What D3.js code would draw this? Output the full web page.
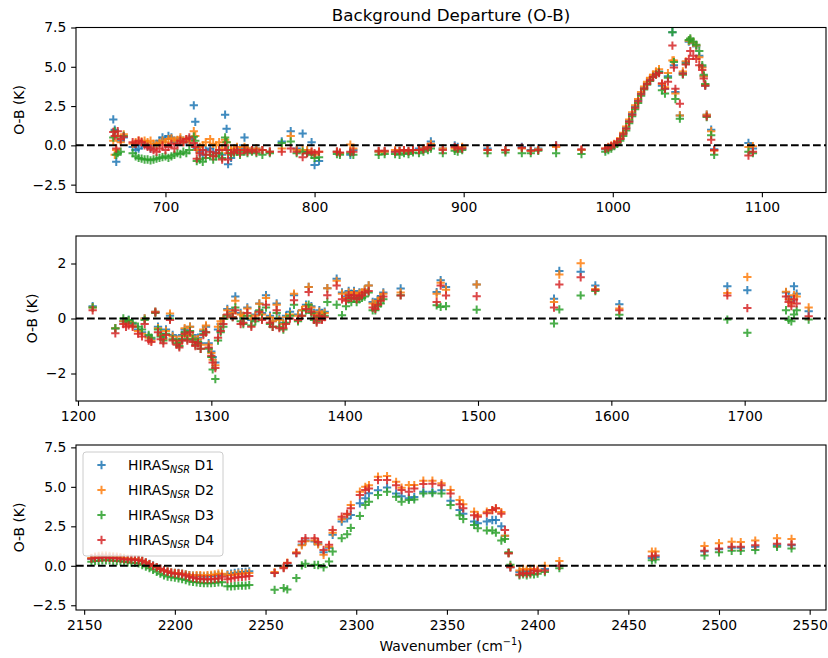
<!DOCTYPE html>
<html>
<head>
<meta charset="utf-8">
<script src="https://cdn.jsdelivr.net/npm/d3@7"></script>
<style>
body { margin: 0; background: #fff; }
svg { font-family: "DejaVu Sans", sans-serif; }
</style>
</head>
<body>
<svg width="828" height="658"></svg>
<script>
const seriesNames = ["D1", "D2", "D3", "D4"];
const colors = ["#1f77b4", "#ff7f0e", "#2ca02c", "#d62728"];

// panel 1: 650-1150 cm-1
const p1Wn = [665,666,667,668,670,672,678,680,682,684,
  686,688,690,692,694,696,698,700,702,704,
  706,708,710,712,714,716,719,720,721,723,
  725,727,730,732,734,736,738,740,741,742,
  744,746,748,750,753,755,758,761,765,770,
  778,784,788,792,795,798,800,803,815,817,
  824,826,843,847,854,857,860,863,866,870,
  873,876,878,886,894,896,899,916,928,939,
  945,950,962,979,995,997,999,1001,1003,1005,
  1007,1009,1011,1013,1015,1017,1019,1021,1023,1025,
  1027,1029,1031,1033,1035,1037,1040,1041,1042,1045,
  1047,1049,1051,1052,1054,1056,1058,1060,1061,1062,
  1063,1066,1068,1091,1094];
const p1D1 = [1.65,1.0,-1.05,0.6,0.3,0.5,-0.1,-0.3,-0.2,0.0,
  0.1,0.0,-0.2,0.0,0.1,0.3,0.5,0.4,0.6,0.5,
  0.2,0.3,0.4,0.3,0.2,0.4,2.55,1.5,-0.2,-0.4,
  -0.6,-0.3,-0.2,-0.4,-0.5,-0.3,-0.6,1.95,1.05,-1.2,
  -0.8,-0.4,-0.3,-0.2,0.5,-0.2,-0.3,-0.2,-0.3,-0.4,
  0.25,0.9,-0.2,0.75,-0.4,0.2,-1.25,-1.0,-0.4,-0.5,
  -0.6,-0.3,-0.4,-0.4,-0.4,-0.35,-0.3,-0.4,-0.3,-0.2,
  -0.2,-0.1,0.25,-0.2,0.0,-0.1,-0.2,-0.2,-0.3,-0.1,
  -0.3,-0.2,0.0,-0.3,-0.25,-0.15,-0.05,0.05,0.2,0.4,
  0.75,1.1,1.55,2.0,2.45,2.85,3.3,3.65,3.95,4.2,
  4.4,4.55,4.7,3.8,3.6,4.4,7.2,5.1,3.4,1.9,
  4.6,5.3,6.6,6.7,6.5,6.3,5.7,5.0,4.4,3.8,
  1.95,1.0,-0.25,0.15,-0.2];
const p1D2 = [0.3,-0.6,-0.3,0.6,0.2,0.7,0.1,0.2,0.3,0.25,
  0.3,0.2,0.3,0.1,0.05,0.15,0.3,0.2,0.4,0.45,
  0.3,0.35,0.5,0.2,0.4,0.3,0.9,0.6,-0.3,-0.1,
  0.0,0.2,0.4,0.1,0.0,0.2,-0.2,0.35,0.2,-0.5,
  -0.3,-0.2,-0.1,-0.3,-0.1,-0.2,-0.3,-0.2,-0.3,-0.4,
  -0.2,0.6,-0.3,-0.3,-0.3,-0.4,-0.6,-0.4,-0.4,-0.5,
  0.05,-0.2,-0.4,-0.4,-0.3,-0.35,-0.3,-0.4,-0.3,-0.3,
  -0.2,-0.1,0.1,-0.2,-0.2,-0.2,-0.1,-0.3,-0.3,-0.2,
  -0.35,-0.25,-0.1,-0.3,-0.2,-0.1,0.0,0.1,0.25,0.45,
  0.8,1.2,1.65,2.1,2.55,2.95,3.4,3.75,4.05,4.3,
  4.5,4.7,4.85,3.9,3.7,4.6,5.4,5.4,3.3,1.9,
  4.7,5.35,6.65,6.75,6.55,6.35,5.6,4.95,4.4,3.85,
  1.95,0.9,-0.35,-0.1,-0.05];
const p1D3 = [0.5,0.9,-0.6,-0.5,-0.4,0.6,-0.5,-0.7,-0.8,-0.85,
  -0.9,-0.9,-0.95,-0.9,-0.85,-0.8,-0.75,-0.7,-0.8,-0.7,
  -0.6,-0.5,-0.55,-0.4,-0.5,-0.3,0.55,0.3,-1.0,-0.9,
  -1.05,-0.8,-0.6,-0.9,-0.7,-0.5,-0.8,0.5,0.2,-0.3,
  -0.6,-0.5,-0.4,-0.6,-0.4,-0.5,-0.4,-0.5,-0.6,-0.5,
  0.15,0.25,-0.5,-0.4,-0.5,-0.6,-0.8,-0.75,-0.55,-0.6,
  -0.5,-0.6,-0.6,-0.55,-0.55,-0.6,-0.5,-0.55,-0.45,-0.5,
  -0.4,-0.3,-0.2,-0.5,-0.35,-0.4,-0.3,-0.5,-0.45,-0.5,
  -0.5,-0.35,-0.5,-0.55,-0.4,-0.3,-0.2,-0.05,0.1,0.3,
  0.6,0.95,1.4,1.85,2.3,2.7,3.15,3.55,3.85,4.1,
  4.35,4.5,4.65,3.5,3.3,4.3,7.2,5.3,2.95,1.7,
  4.5,5.2,6.7,6.8,6.6,6.4,6.0,5.1,4.5,3.9,
  1.8,0.65,-0.6,-0.4,-0.5];
const p1D4 = [0.85,0.6,-0.2,0.9,0.4,0.55,0.2,0.1,0.3,0.2,
  0.0,-0.1,-0.2,-0.3,-0.4,-0.2,0.0,-0.3,-0.1,0.1,
  -0.2,0.1,0.3,0.2,0.4,0.5,0.15,-0.1,-0.85,-0.5,
  -0.3,-0.6,-0.4,-0.7,-0.5,-0.3,-0.9,0.0,-0.3,-0.9,
  -0.5,-0.4,-0.3,-0.5,-0.3,-0.4,-0.3,-0.4,-0.3,-0.4,
  -0.4,-0.2,-0.4,-0.75,-0.5,-0.4,-0.5,-0.4,-0.4,-0.45,
  -0.4,-0.4,-0.35,-0.35,-0.4,-0.35,-0.3,-0.35,-0.3,-0.3,
  -0.25,-0.15,-0.05,-0.3,-0.1,-0.2,-0.2,-0.3,-0.3,-0.15,
  -0.35,-0.3,0.0,-0.25,-0.2,-0.15,-0.05,0.05,0.2,0.4,
  0.7,1.05,1.5,1.95,2.4,2.8,3.25,3.6,3.9,4.15,
  4.35,4.5,4.6,3.95,3.6,4.05,6.35,4.95,3.6,2.65,
  4.55,5.15,5.5,6.0,5.7,5.5,5.1,4.8,4.25,3.8,
  1.85,0.35,-0.3,-0.65,-0.4];

// panel 2: 1200-1760 cm-1
const p2Wn = [1211,1228,1234,1236,1238,1241,1245,1248,1250,1253,
  1255,1258,1260,1262,1264,1266,1269,1271,1274,1276,
  1278,1280,1282,1284,1286,1288,1290,1292,1294,1296,
  1298,1300,1301,1303,1305,1307,1309,1312,1316,1318,
  1322,1324,1327,1330,1333,1336,1338,1341,1344,1346,
  1349,1351,1354,1356,1359,1362,1365,1368,1371,1373,
  1375,1377,1379,1381,1383,1385,1387,1394,1398,1401,
  1403,1405,1407,1409,1411,1413,1415,1418,1421,1423,
  1425,1427,1429,1442,1469,1472,1476,1499,1557,1561,
  1577,1588,1606,1687,1702,1731,1733,1735,1737,1739,
  1748];
const p2D1 = [0.45,-0.35,-0.1,-0.15,-0.05,-0.2,-0.4,-0.5,0.0,-0.65,
  -0.75,0.25,-0.3,-0.55,-0.7,-0.4,0.1,-0.6,-0.75,-0.85,
  -0.6,-0.4,-0.6,-0.3,-0.6,-0.8,-0.7,-0.9,-0.45,-0.3,
  -0.9,-1.2,-1.4,-1.6,-0.4,-0.2,0.0,0.35,0.25,0.8,
  0.2,0.0,0.4,-0.05,0.15,0.55,0.2,0.85,0.1,-0.1,
  0.55,0.0,-0.15,0.1,0.25,0.85,0.15,0.3,0.5,1.15,
  0.45,0.2,0.1,0.3,0.2,0.25,1.1,1.45,0.95,0.8,
  1.0,0.9,1.0,0.85,0.95,0.9,1.05,1.2,0.6,0.55,
  0.7,0.8,0.95,1.09,0.96,1.39,1.15,1.24,0.72,1.73,
  1.7,1.2,0.52,1.17,1.03,0.95,0.8,0.65,1.17,0.9,
  0.26];
const p2D2 = [0.4,-0.35,-0.1,-0.2,-0.1,-0.25,-0.45,-0.55,0.0,-0.7,
  -0.8,0.25,-0.35,-0.6,-0.75,-0.45,0.18,-0.65,-0.8,-0.9,
  -0.65,-0.35,-0.6,-0.3,-0.65,-0.85,-0.75,-0.95,-0.4,-0.25,
  -0.95,-1.25,-1.5,-1.7,-0.3,-0.1,0.0,0.3,0.2,0.65,
  0.15,0.1,0.36,0.0,0.1,0.54,0.15,0.75,0.05,-0.1,
  0.5,-0.05,-0.2,0.05,0.15,0.9,0.1,0.3,0.45,1.15,
  0.4,0.15,0.05,0.25,0.15,0.2,1.1,1.37,0.9,0.75,
  0.95,0.85,0.95,0.8,0.9,0.95,1.05,1.2,0.55,0.5,
  0.65,0.75,0.9,0.95,0.9,1.3,1.05,1.24,0.6,1.6,
  2.01,1.07,0.36,0.93,1.51,0.97,0.7,0.55,0.85,0.8,
  0.4];
const p2D3 = [0.4,-0.36,0.0,-0.1,-0.05,-0.15,-0.3,-0.4,-0.05,-0.6,
  -0.7,0.2,-0.4,-0.65,-0.8,-0.55,0.0,-0.75,-0.9,-1.0,
  -0.75,-0.5,-0.75,-0.45,-0.75,-0.95,-0.85,-1.1,-0.55,-0.5,
  -1.1,-1.4,-1.85,-2.2,-0.8,-0.5,-0.3,0.1,0.05,0.4,
  -0.1,-0.2,0.1,-0.25,-0.1,0.3,0.0,0.4,-0.2,-0.3,
  0.2,-0.3,-0.4,-0.15,0.1,0.5,-0.1,0.1,0.3,0.5,
  0.2,-0.05,-0.1,0.05,0.0,0.1,0.6,0.5,0.12,0.45,
  0.7,0.6,0.75,0.6,0.7,0.75,0.8,0.95,0.3,0.3,
  0.45,0.55,0.7,0.85,0.48,0.42,0.45,0.32,-0.18,0.33,
  0.84,1.0,0.14,-0.04,-0.52,0.3,-0.05,-0.1,0.15,0.3,
  -0.04];
const p2D4 = [0.3,-0.54,-0.2,-0.3,-0.25,-0.3,-0.55,-0.65,-0.2,-0.8,
  -0.85,0.22,-0.5,-0.75,-0.9,-0.6,-0.05,-0.8,-0.95,-1.05,
  -0.8,-0.55,-0.8,-0.5,-0.85,-1.0,-0.9,-1.1,-0.6,-0.5,
  -1.05,-1.35,-1.6,-1.8,-0.7,-0.45,-0.2,0.15,0.05,0.3,
  -0.2,-0.15,0.2,-0.3,0.0,0.25,-0.05,0.5,-0.15,-0.3,
  0.3,-0.35,-0.35,-0.2,0.0,0.66,-0.05,0.1,0.35,0.96,
  0.25,0.0,-0.15,0.1,-0.05,0.05,0.85,1.2,0.7,0.65,
  0.85,0.75,0.85,0.7,0.8,0.85,0.95,1.0,0.4,0.35,
  0.5,0.65,0.8,0.84,0.6,1.2,0.84,0.81,0.4,1.24,
  1.5,1.04,0.3,0.84,0.38,0.8,0.6,0.45,0.7,0.55,
  0.08];

// panel 3: 2150-2550 cm-1
const p3Wn = [2154,2156,2158,2160,2162,2164,2166,2168,2170,2172,
  2174,2176,2178,2180,2182,2184,2186,2188,2190,2192,
  2194,2196,2198,2200,2202,2204,2206,2208,2210,2212,
  2214,2216,2218,2220,2222,2224,2226,
  2229,2231,2233,2235,2237,2239,2241,
  2255,2260,2262,2267,2270,2272,2277,2279,2282,2285,
  2287,2292,2295,2297,2302,2305,2307,2312,2317,2322,
  2325,2329,2332,2337,2342,2347,2352,2357,2359,2365,
  2367,2372,2375,2377,2380,2382,2384,2385,2390,2392,
  2394,2396,2398,2400,2404,2412,2463,2465,2492,2500,
  2507,2512,2520,2532,2540];
const p3D1 = [0.45,0.5,0.52,0.55,0.55,0.55,0.52,0.5,0.48,0.45,
  0.42,0.42,0.4,0.38,0.32,0.22,0.12,0.02,-0.08,-0.18,
  -0.28,-0.35,-0.42,-0.45,-0.45,-0.5,-0.55,-0.6,-0.62,-0.65,
  -0.65,-0.68,-0.68,-0.65,-0.62,-0.6,-0.55,
  -0.55,-0.5,-0.45,-0.42,-0.4,-0.38,-0.35,
  -0.45,-0.1,0.15,0.8,1.35,1.6,1.54,1.4,0.85,1.15,
  1.96,2.8,3.0,3.22,3.96,4.27,4.6,4.79,4.96,4.58,
  4.4,4.27,4.35,4.69,4.69,4.79,4.12,3.53,3.3,2.8,
  2.7,2.8,2.9,2.9,2.5,1.9,0.8,-0.1,-0.4,-0.3,
  -0.35,-0.3,-0.25,-0.3,-0.2,0.0,0.5,0.55,0.9,1.05,
  1.15,1.15,1.2,1.3,1.3];
const p3D2 = [0.5,0.58,0.62,0.65,0.65,0.62,0.6,0.58,0.55,0.5,
  0.45,0.45,0.42,0.4,0.32,0.22,0.1,0.0,-0.1,-0.2,
  -0.3,-0.36,-0.42,-0.45,-0.48,-0.5,-0.55,-0.6,-0.62,-0.6,
  -0.6,-0.62,-0.6,-0.58,-0.55,-0.5,-0.5,
  -0.6,-0.58,-0.55,-0.5,-0.5,-0.48,-0.45,
  -0.4,-0.1,0.2,0.85,1.3,1.55,1.6,1.35,0.7,1.2,
  2.1,2.95,3.25,3.85,4.69,5.0,5.1,5.64,5.68,5.32,
  4.95,5.11,5.11,5.39,5.39,5.22,4.8,4.17,3.9,3.43,
  3.2,3.43,3.53,3.64,3.4,1.9,0.8,-0.05,-0.3,-0.2,
  -0.25,-0.2,-0.2,-0.25,0.0,0.3,0.9,0.9,1.26,1.43,
  1.53,1.5,1.6,1.75,1.7];
const p3D3 = [0.25,0.3,0.32,0.35,0.35,0.35,0.32,0.3,0.28,0.25,
  0.22,0.2,0.18,0.15,0.05,-0.05,-0.15,-0.25,-0.38,-0.5,
  -0.6,-0.68,-0.72,-0.75,-0.8,-0.85,-0.9,-0.98,-1.02,-1.05,
  -1.08,-1.1,-1.1,-1.1,-1.08,-1.05,-1.05,
  -1.3,-1.3,-1.28,-1.26,-1.25,-1.25,-1.22,
  -1.52,-1.41,-1.5,-0.78,0.02,0.13,0.06,0.05,-0.1,0.27,
  0.9,1.75,2.0,2.4,3.16,3.85,4.06,4.48,4.69,4.37,
  4.06,4.17,4.2,4.58,4.6,4.58,3.85,3.2,2.96,2.59,
  2.38,2.24,2.24,2.1,1.6,1.7,0.85,0.06,-0.6,-0.55,
  -0.6,-0.55,-0.55,-0.5,-0.4,-0.15,0.35,0.4,0.65,0.85,
  0.95,0.95,1.0,1.2,1.1];
const p3D4 = [0.45,0.5,0.5,0.52,0.52,0.5,0.5,0.48,0.45,0.42,
  0.4,0.4,0.38,0.35,0.3,0.2,0.1,0.0,-0.1,-0.2,
  -0.3,-0.38,-0.45,-0.5,-0.5,-0.55,-0.62,-0.7,-0.75,-0.8,
  -0.82,-0.85,-0.85,-0.85,-0.82,-0.8,-0.7,
  -0.85,-0.8,-0.75,-0.72,-0.7,-0.68,-0.65,
  -0.46,-0.15,0.17,0.8,1.54,1.75,1.75,1.5,1.0,1.33,
  2.27,3.11,3.3,3.64,4.48,4.8,4.9,5.43,5.43,5.1,
  4.8,4.69,4.9,5.18,5.2,5.1,4.58,3.9,3.64,3.2,
  3.1,3.32,3.53,3.64,3.3,2.27,0.8,-0.1,-0.55,-0.45,
  -0.5,-0.45,-0.3,-0.35,-0.3,0.0,0.6,0.65,0.95,1.1,
  1.2,1.2,1.3,1.4,1.35];

const p1XTicks = [700, 800, 900, 1000, 1100];
const p1YTicks = [-2.5, 0, 2.5, 5, 7.5];
const p2XTicks = [1200, 1300, 1400, 1500, 1600, 1700];
const p2YTicks = [-2, 0, 2];
const p3XTicks = [2150, 2200, 2250, 2300, 2350, 2400, 2450, 2500, 2550];
const p3YTicks = [-2.5, 0, 2.5, 5, 7.5];

const panels = [
  { wn: p1Wn, vals: [p1D1, p1D2, p1D3, p1D4], xDom: [640, 1143], yDom: [-3, 7.5],
    xTicks: p1XTicks, yTicks: p1YTicks, yFmt: ".1f", top: 27.5, labelX: 19 },
  { wn: p2Wn, vals: [p2D1, p2D2, p2D3, p2D4], xDom: [1198.5, 1761], yDom: [-3, 3],
    xTicks: p2XTicks, yTicks: p2YTicks, yFmt: "d", top: 236, labelX: 32 },
  { wn: p3Wn, vals: [p3D1, p3D2, p3D3, p3D4], xDom: [2145.5, 2559], yDom: [-2.8, 7.65],
    xTicks: p3XTicks, yTicks: p3YTicks, yFmt: ".1f", top: 445, labelX: 19 }
];

const left = 76, right = 826, plotH = 165;
const fs = 13.9;
const tick = 4.86;
const arm = 4.15;
const plusPath = `M${-arm},0H${arm}M0,${-arm}V${arm}`;

const svg = d3.select("svg");

panels.forEach((p, pi) => {
  const x = d3.scaleLinear().domain(p.xDom).range([left, right]);
  const y = d3.scaleLinear().domain(p.yDom).range([p.top + plotH, p.top]);
  const g = svg.append("g");

  g.append("clipPath").attr("id", "clip" + pi)
    .append("rect").attr("x", left).attr("y", p.top).attr("width", right - left).attr("height", plotH);

  const pts = g.append("g").attr("clip-path", `url(#clip${pi})`);
  p.vals.forEach((vals, si) => {
    pts.append("g").selectAll("path")
      .data(p.wn.map((w, i) => [w, vals[i]]))
      .enter().append("path")
      .attr("d", plusPath)
      .attr("transform", d => `translate(${x(d[0])},${y(d[1])})`)
      .attr("fill", "none")
      .attr("stroke", colors[si])
      .attr("stroke-width", 2)
      .attr("opacity", 0.85);
  });

  g.append("line")
    .attr("x1", left).attr("x2", right)
    .attr("y1", y(0)).attr("y2", y(0))
    .attr("stroke", "#000").attr("stroke-width", 2)
    .attr("stroke-dasharray", "7.7,3.3");

  const xAxis = g.append("g").attr("transform", `translate(0,${p.top + plotH})`)
    .call(d3.axisBottom(x).tickValues(p.xTicks).tickSize(tick).tickPadding(tick).tickFormat(d3.format("d")));
  const yAxis = g.append("g").attr("transform", `translate(${left},0)`)
    .call(d3.axisLeft(y).tickValues(p.yTicks).tickSize(tick).tickPadding(tick).tickFormat(d3.format(p.yFmt)));
  [xAxis, yAxis].forEach(a => {
    a.select(".domain").remove();
    a.attr("font-family", "DejaVu Sans, sans-serif").attr("font-size", fs);
    a.selectAll("line").attr("stroke", "#000").attr("stroke-width", 1.1);
    a.selectAll("text").attr("fill", "#000");
  });

  g.append("rect")
    .attr("x", left).attr("y", p.top).attr("width", right - left).attr("height", plotH)
    .attr("fill", "none").attr("stroke", "#000").attr("stroke-width", 1.1);

  g.append("text")
    .attr("transform", `translate(${p.labelX},${p.top + plotH / 2}) rotate(-90)`)
    .attr("text-anchor", "middle").attr("dy", "0.35em")
    .attr("font-size", fs).text("O-B (K)");
});

// title and x label
svg.append("text").attr("x", (left + right) / 2).attr("y", 21)
  .attr("text-anchor", "middle").attr("font-size", 16.7)
  .text("Background Departure (O-B)");

const xl = svg.append("text").attr("x", (left + right) / 2).attr("y", 651)
  .attr("text-anchor", "middle").attr("font-size", fs);
xl.append("tspan").text("Wavenumber (cm");
xl.append("tspan").attr("dy", -6).attr("font-size", 9.7).text("\u22121");
xl.append("tspan").attr("dy", 6).text(")");

// legend in the lower panel
const lg = svg.append("g");
lg.append("rect").attr("x", 83).attr("y", 452).attr("width", 140).attr("height", 104)
  .attr("rx", 3).attr("fill", "#fff").attr("fill-opacity", 0.8)
  .attr("stroke", "#ccc").attr("stroke-width", 1);
seriesNames.forEach((name, i) => {
  const cy = 465 + i * 25;
  lg.append("path").attr("d", plusPath)
    .attr("transform", `translate(101.5,${cy})`)
    .attr("fill", "none").attr("stroke", colors[i]).attr("stroke-width", 2).attr("opacity", 0.85);
  const t = lg.append("text").attr("x", 128).attr("y", cy + 5).attr("font-size", fs);
  t.append("tspan").text("HIRAS");
  t.append("tspan").attr("dy", 3).attr("font-size", 9.7).attr("font-style", "italic").text("NSR");
  t.append("tspan").attr("dy", -3).text(" " + name);
});
</script>
</body>
</html>
